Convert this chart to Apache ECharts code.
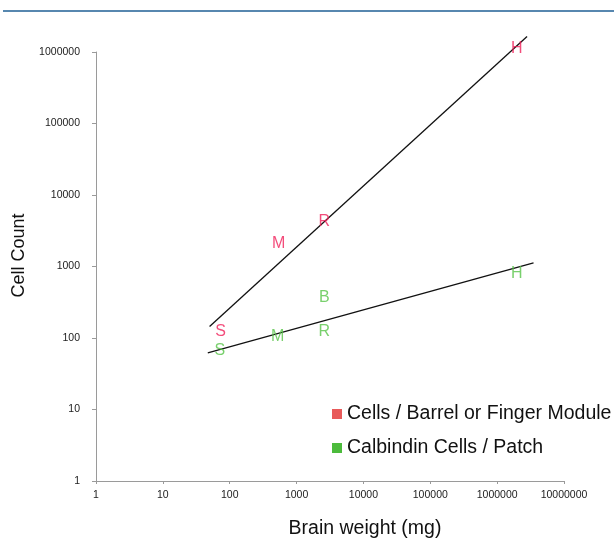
<!DOCTYPE html>
<html>
<head>
<meta charset="utf-8">
<script src="https://cdn.jsdelivr.net/npm/echarts@6/dist/echarts.min.js"></script>
<style>html,body{margin:0;padding:0;background:#fff}#c{width:614px;height:539px}</style>
</head>
<body>
<div id="c"></div>
<script>
// Species labels
const redLetters = ['S', 'M', 'R', 'H'];
const redX = [73, 540, 2600, 1970000];
const redY = [122, 2060, 4300, 1120000];

const greenLetters = ['S', 'M', 'R', 'B', 'H'];
const greenX = [71, 520, 2600, 2600, 1970000];
const greenY = [67, 103, 122, 365, 790];

// Trend line endpoints
const redTrendX = [50, 2800000];
const redTrendY = [145, 1650000];
const greenTrendX = [47, 3500000];
const greenTrendY = [62, 1120];

const seriesNames = ['Cells / Barrel or Finger Module', 'Calbindin Cells / Patch'];
const xTicks = [1, 10, 100, 1000, 10000, 100000, 1000000, 10000000];
const yTicks = [1, 10, 100, 1000, 10000, 100000, 1000000];

const RED = '#f0205a';
const GREEN = '#58c448';

function pts(xs, ys, ls) { return xs.map((x, i) => ls ? { value: [x, ys[i]], name: ls[i] } : [x, ys[i]]); }

const chart = echarts.init(document.getElementById('c'));
chart.setOption({
  animation: false,
  textStyle: { fontFamily: 'Liberation Sans, Arial, sans-serif' },
  grid: { left: 96, right: 50, top: 52, bottom: 58, containLabel: false, outerBoundsMode: 'none' },
  graphic: [{ type: 'line', shape: { x1: 3, y1: 11, x2: 614, y2: 11 }, style: { stroke: '#1f5f95', lineWidth: 1.5 } }],
  xAxis: {
    type: 'log', logBase: 10, min: xTicks[0], max: xTicks[xTicks.length - 1],
    name: 'Brain weight (mg)', nameLocation: 'middle', nameGap: 38,
    nameTextStyle: { fontSize: 19.5, color: '#111', padding: [0, 0, 0, 70] },
    axisLine: { lineStyle: { color: '#9a9a9a' } },
    axisTick: { show: true, length: 3, lineStyle: { color: '#9a9a9a' } },
    axisLabel: { fontSize: 10.5, color: '#222', margin: 9, formatter: v => String(Math.round(v)) },
    splitLine: { show: false }, minorTick: { show: false }
  },
  yAxis: {
    type: 'log', logBase: 10, min: yTicks[0], max: yTicks[yTicks.length - 1],
    name: 'Cell Count', nameLocation: 'middle', nameGap: 68,
    nameTextStyle: { fontSize: 18, color: '#111', padding: [0, 0, 0, 22] },
    axisLine: { show: true, lineStyle: { color: '#9a9a9a' } },
    axisTick: { show: true, length: 4, lineStyle: { color: '#9a9a9a' } },
    axisLabel: { fontSize: 10.5, color: '#222', margin: 16, formatter: v => String(Math.round(v)) },
    splitLine: { show: false }
  },
  legend: {
    orient: 'vertical', left: 327, top: 399, itemGap: 14,
    itemWidth: 10, itemHeight: 10, icon: 'rect',
    textStyle: { fontSize: 19.5, color: '#111' },
    data: [
      { name: seriesNames[0], itemStyle: { color: '#e85a5a', opacity: 1 } },
      { name: seriesNames[1], itemStyle: { color: '#4cbb3c', opacity: 1 } }
    ]
  },
  series: [
    { type: 'line', data: pts(redTrendX, redTrendY), symbol: 'none', clip: false, lineStyle: { color: '#111', width: 1.3 }, silent: true, z: 1 },
    { type: 'line', data: pts(greenTrendX, greenTrendY), symbol: 'none', clip: false, lineStyle: { color: '#111', width: 1.3 }, silent: true, z: 1 },
    {
      name: seriesNames[0], type: 'scatter', data: pts(redX, redY, redLetters), symbolSize: 1, clip: false,
      itemStyle: { color: 'rgba(0,0,0,0)' }, z: 3,
      label: { show: true, position: 'inside', formatter: p => p.name, color: RED, fontSize: 16 }
    },
    {
      name: seriesNames[1], type: 'scatter', data: pts(greenX, greenY, greenLetters), symbolSize: 1, clip: false,
      itemStyle: { color: 'rgba(0,0,0,0)' }, z: 3,
      label: { show: true, position: 'inside', formatter: p => p.name, color: GREEN, fontSize: 16 }
    }
  ]
});
</script>
</body>
</html>
